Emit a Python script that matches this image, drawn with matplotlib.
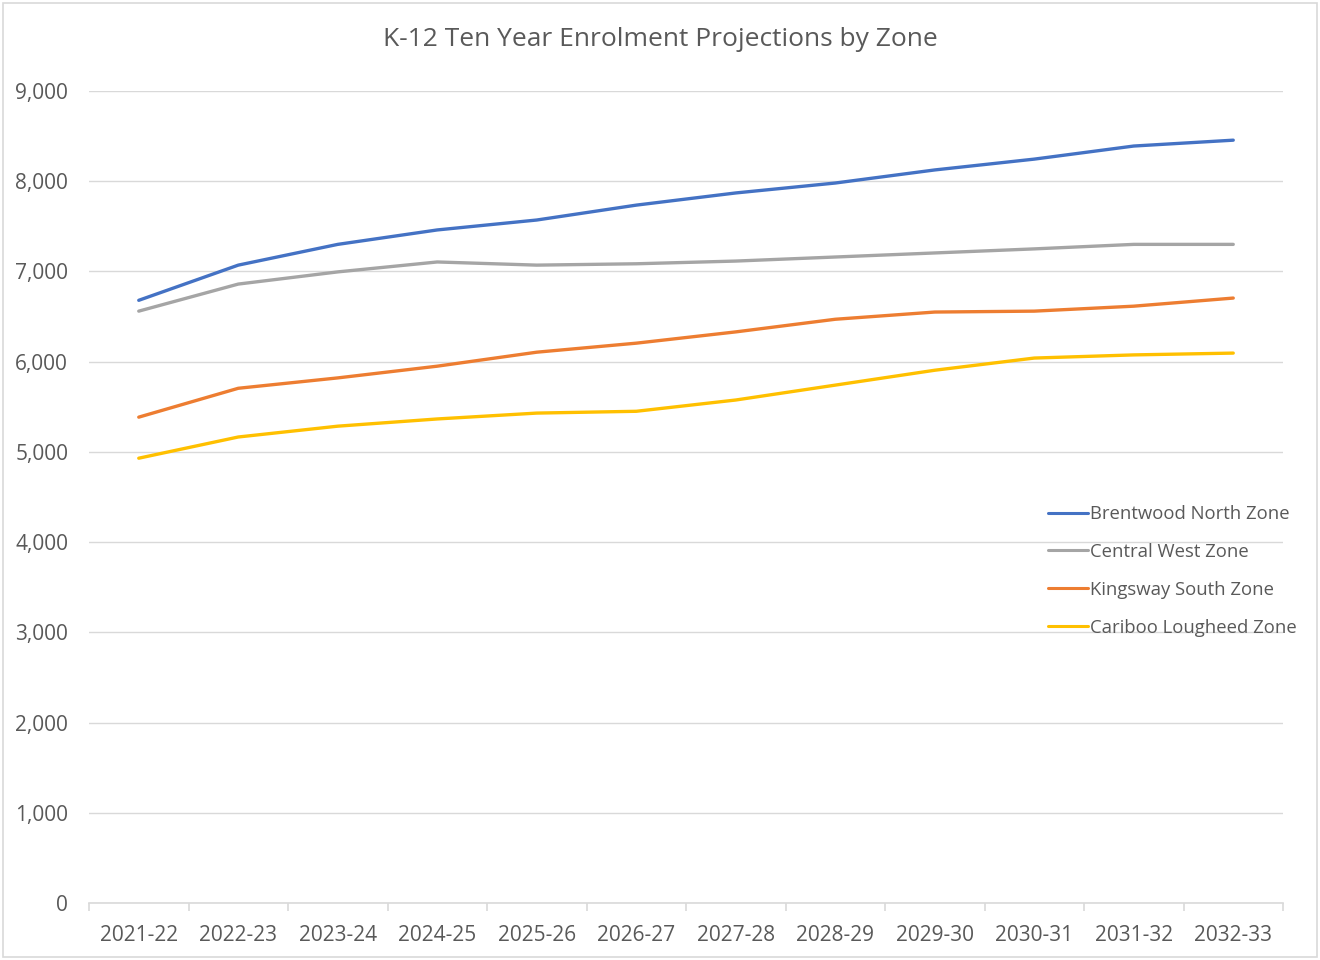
import matplotlib
matplotlib.use("Agg")
import matplotlib.pyplot as plt
from matplotlib.patches import Rectangle
from matplotlib.ticker import FuncFormatter, FixedLocator

years = ["2021-22", "2022-23", "2023-24", "2024-25", "2025-26", "2026-27",
         "2027-28", "2028-29", "2029-30", "2030-31", "2031-32", "2032-33"]
brentwood = [6680, 7070, 7300, 7460, 7570, 7735, 7870, 7980, 8125, 8245, 8390, 8455]
central = [6560, 6860, 6995, 7105, 7070, 7085, 7115, 7160, 7205, 7250, 7300, 7300]
kingsway = [5385, 5705, 5820, 5950, 6105, 6205, 6330, 6470, 6550, 6560, 6615, 6705]
cariboo = [4930, 5165, 5285, 5365, 5430, 5450, 5575, 5740, 5905, 6040, 6075, 6095]
series_names = ["Brentwood North Zone", "Central West Zone", "Kingsway South Zone", "Cariboo Lougheed Zone"]
colors = ["#4472C4", "#A5A5A5", "#ED7D31", "#FFC000"]

plt.rcParams['font.family'] = ['Open Sans', 'DejaVu Sans']
txt = "#595959"

fig = plt.figure(figsize=(13.2, 9.6), dpi=100)
fig.patches.append(Rectangle((3/1320, 3/960), 1314/1320, 954/960, transform=fig.transFigure,
                             fill=False, edgecolor="#D9D9D9", linewidth=1.2))
ax = fig.add_axes([89/1320, 57/960, (1283-89)/1320, (903-91)/960])

x = list(range(len(years)))
for vals, name, c in zip([brentwood, central, kingsway, cariboo], series_names, colors):
    ax.plot(x, vals, color=c, linewidth=2.4, label=name, solid_capstyle='round')

ax.set_xlim(-0.5, len(years) - 0.5)
ax.set_ylim(0, 9000)
ax.set_yticks(range(0, 9001, 1000))
ax.yaxis.set_major_formatter(FuncFormatter(lambda v, p: f"{int(v):,}"))
ax.grid(axis='y', color="#D9D9D9", linewidth=1)
ax.set_axisbelow(True)
for s in ['top', 'right', 'left']:
    ax.spines[s].set_visible(False)
ax.spines['bottom'].set_color("#D9D9D9")
ax.spines['bottom'].set_linewidth(1.2)

ax.set_xticks(x)
ax.set_xticklabels(years)
ax.xaxis.set_minor_locator(FixedLocator([i - 0.5 for i in range(len(years) + 1)]))
ax.tick_params(axis='x', which='major', length=0, pad=15.5, labelsize=15, labelcolor=txt)
ax.tick_params(axis='x', which='minor', length=6, color="#D9D9D9", width=1.2)
ax.tick_params(axis='y', length=0, pad=15, labelsize=15, labelcolor=txt)

fig.text(660/1320, 1 - 40/960, "K-12 Ten Year Enrolment Projections by Zone",
         ha='center', va='center', fontsize=19, color=txt)

leg = ax.legend(loc='upper left', bbox_to_anchor=(1048/1320, 1 - 505/960), bbox_transform=fig.transFigure,
                frameon=False, fontsize=13.3, handlelength=2.15, handletextpad=0.1,
                labelspacing=1.08, borderaxespad=0, borderpad=0)
for t in leg.get_texts():
    t.set_color(txt)
for h in leg.get_lines():
    h.set_linewidth(2.2)

fig.savefig("out.png", dpi=100, facecolor="white")
